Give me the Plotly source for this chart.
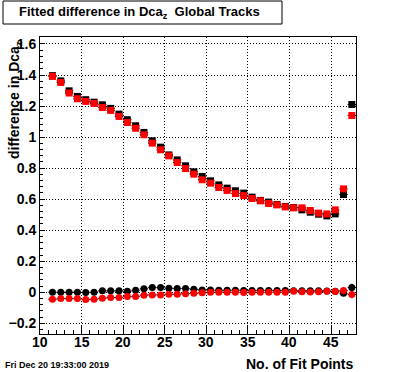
import plotly.graph_objects as go

# ---- data ----
fit_points = [11.5 + i for i in range(37)]

upper_black = [1.396, 1.362, 1.298, 1.262, 1.241, 1.225, 1.208, 1.185, 1.148, 1.112,
               1.073, 1.030, 0.976, 0.935, 0.885, 0.853, 0.815, 0.776, 0.746, 0.718,
               0.692, 0.671, 0.654, 0.639, 0.613, 0.592, 0.581, 0.566, 0.553, 0.546,
               0.531, 0.516, 0.503, 0.492, 0.505, 0.630, 1.210]
upper_red = [1.391, 1.352, 1.284, 1.247, 1.230, 1.217, 1.191, 1.172, 1.133, 1.094,
             1.057, 1.015, 0.961, 0.918, 0.879, 0.836, 0.797, 0.761, 0.725, 0.703,
             0.675, 0.656, 0.636, 0.623, 0.604, 0.589, 0.572, 0.563, 0.550, 0.544,
             0.544, 0.527, 0.510, 0.505, 0.531, 0.666, 1.139]
lower_black = [0.000, 0.000, 0.000, 0.000, -0.001, 0.000, 0.009, 0.009, 0.009, 0.006,
               0.013, 0.022, 0.030, 0.030, 0.026, 0.024, 0.024, 0.019, 0.015, 0.014,
               0.013, 0.013, 0.013, 0.012, 0.012, 0.012, 0.012, 0.012, 0.011, 0.010,
               0.009, 0.010, 0.010, 0.008, 0.006, -0.006, 0.030]
lower_red = [-0.045, -0.041, -0.041, -0.041, -0.047, -0.045, -0.039, -0.034, -0.034, -0.028,
             -0.028, -0.019, -0.017, -0.017, -0.013, -0.013, -0.009, -0.007, -0.003, 0.000,
             0.000, 0.000, 0.000, -0.001, 0.000, 0.000, 0.000, 0.000, 0.000, 0.006,
             0.004, 0.001, 0.004, 0.006, 0.005, 0.011, -0.014]

upper_err = [0.004] * 34 + [0.012, 0.015, 0.018]
lower_err = [0.004] * 34 + [0.008, 0.012, 0.025]
bin_half = [0.5] * 37

x_ticks = [10, 15, 20, 25, 30, 35, 40, 45]
x_ticktext = ["10", "15", "20", "25", "30", "35", "40", "45"]
y_ticks = [-0.2, 0, 0.2, 0.4, 0.6, 0.8, 1.0, 1.2, 1.4, 1.6]
y_ticktext = ["\u22120.2", "0", "0.2", "0.4", "0.6", "0.8", "1", "1.2", "1.4", "1.6"]

title_text = "Fitted difference in Dca<sub>z</sub>  Global Tracks"
x_title = "No. of Fit Points"
y_title = "difference in Dca<sub>z</sub>"
date_text = "Fri Dec 20 19:33:00 2019"

FONT = "Liberation Sans, Arial, sans-serif"
DOT = "1px,2px"

fig = go.Figure()


def add_series(y, err, color, symbol):
    fig.add_trace(go.Scatter(
        x=fit_points, y=y, mode="markers",
        marker=dict(color=color, symbol=symbol, size=7, line=dict(width=0)),
        error_x=dict(type="data", array=bin_half, color="black", thickness=1, width=0),
        error_y=dict(type="data", array=err, color="black", thickness=1, width=0),
        showlegend=False, hoverinfo="x+y",
    ))


add_series(upper_black, upper_err, "black", "square")
add_series(lower_black, lower_err, "black", "circle")
add_series(upper_red, upper_err, "#ff0000", "square")
add_series(lower_red, lower_err, "#ff0000", "circle")

# plot area: x 40..356, y 37..334 px
L, R, T, B = 40, 356, 37, 334
W, H = R - L, B - T


def px(xp):
    return (xp - L) / W


def py(yp):
    return (B - yp) / H


bold14 = dict(family=FONT, size=14, weight="bold", color="black")

annotations = [
    dict(text=title_text, xref="paper", yref="paper", x=px(17), y=py(12.5),
         xanchor="left", yanchor="middle", showarrow=False,
         font=dict(family=FONT, size=13, weight="bold", color="black")),
    dict(text=x_title, xref="paper", yref="paper", x=1.0, y=py(364),
         xanchor="right", yanchor="middle", showarrow=False, font=bold14),
    dict(text=y_title, xref="paper", yref="paper", x=px(15), y=py(39),
         xanchor="center", yanchor="top", textangle=-90, showarrow=False, font=bold14),
    dict(text=date_text, xref="paper", yref="paper", x=px(3), y=py(365),
         xanchor="left", yanchor="middle", showarrow=False,
         font=dict(family=FONT, size=9, weight="bold", color="black")),
]
for v, t in zip(x_ticks, x_ticktext):
    annotations.append(dict(text=t, xref="x", yref="paper", x=v, y=py(342),
                            xanchor="center", yanchor="middle", showarrow=False,
                            font=bold14))

fig.update_layout(
    width=396, height=372,
    margin=dict(l=L, r=396 - R, t=T, b=372 - B, autoexpand=False),
    paper_bgcolor="white", plot_bgcolor="white",
    font=dict(family=FONT, color="black"),
    xaxis=dict(
        range=[10, 48], tickvals=x_ticks, ticks="inside", ticklen=9, tickwidth=1,
        tickcolor="black", showline=True, linecolor="black", linewidth=1, mirror=True,
        showgrid=True, gridcolor="black", griddash=DOT, gridwidth=1, zeroline=False,
        showticklabels=False,
        minor=dict(dtick=1, ticks="inside", ticklen=4, tickcolor="black", showgrid=False),
    ),
    yaxis=dict(
        range=[-0.269, 1.645], tickvals=y_ticks, ticktext=y_ticktext, ticks="inside",
        ticklen=5, tickwidth=1, tickcolor="black", showline=True, linecolor="black",
        linewidth=1, mirror=True, showgrid=True, gridcolor="black", griddash=DOT,
        gridwidth=1, zeroline=False, tickfont=bold14,
        minor=dict(dtick=0.04, tick0=0, ticks="inside", ticklen=3, tickcolor="black", showgrid=False),
    ),
    shapes=[dict(type="rect", xref="paper", yref="paper",
                 x0=px(3), x1=px(282), y0=py(24), y1=py(1),
                 line=dict(color="black", width=1), fillcolor="white", layer="above")],
    annotations=annotations,
)

fig.write_html(
    "out.html",
    config={"displayModeBar": False},
    post_script="document.body.style.margin='0';document.body.style.overflow='hidden';",
)
